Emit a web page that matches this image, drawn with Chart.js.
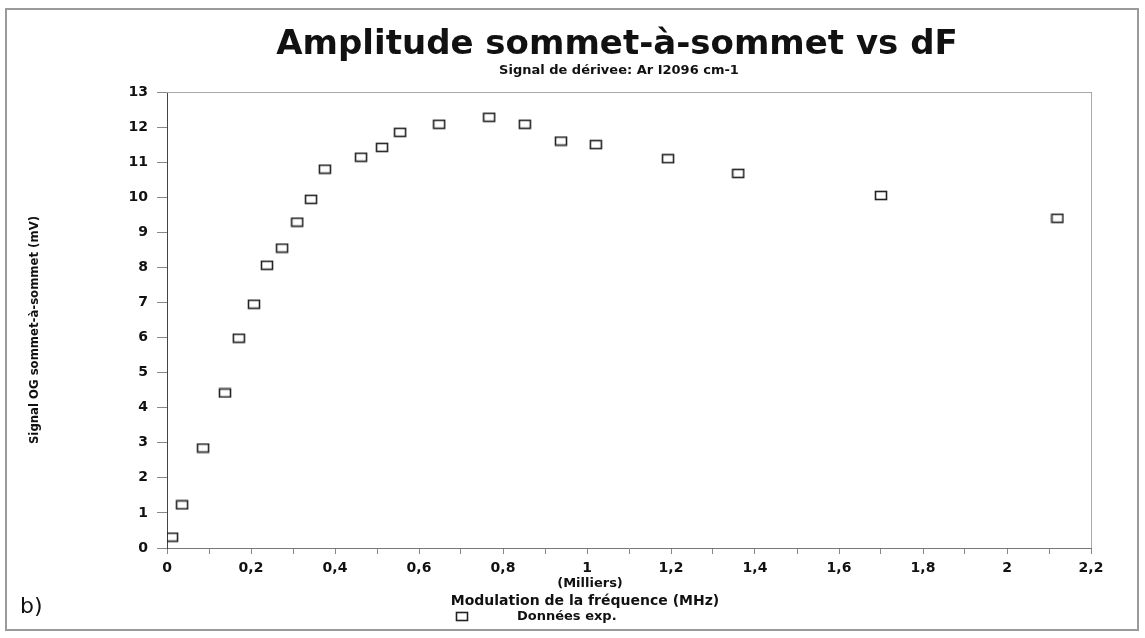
<!DOCTYPE html>
<html>
<head>
<meta charset="utf-8">
<script src="https://cdn.jsdelivr.net/npm/chart.js@4"></script>
<style>
  html, body { margin: 0; padding: 0; background: #fff; }
  #wrap { position: relative; width: 1145px; height: 638px; }
</style>
</head>
<body>
<div id="wrap"><canvas id="ampChart" width="1145" height="638"></canvas></div>
<script>
// ----------------------------
// données
// ----------------------------

const freqMHz = [0.012, 0.036, 0.086, 0.138, 0.171, 0.207, 0.238, 0.274, 0.31, 0.343, 0.376,
  0.462, 0.512, 0.555, 0.648, 0.767, 0.852, 0.938, 1.021, 1.193, 1.36, 1.70, 2.12];

const amplitude = [0.31, 1.23, 2.85, 4.42, 5.98, 6.95, 8.06, 8.55, 9.29, 9.94, 10.8,
  11.14, 11.42, 11.85, 12.08, 12.28, 12.08, 11.6, 11.5, 11.1, 10.68, 10.05, 9.4];

const xTickLabels = ["0", "0,2", "0,4", "0,6", "0,8", "1", "1,2", "1,4", "1,6", "1,8", "2", "2,2"];
const yTickLabels = ["0", "1", "2", "3", "4", "5", "6", "7", "8", "9", "10", "11", "12", "13"];

const titleText = "Amplitude sommet-à-sommet vs dF";
const subtitleText = "Signal de dérivee: Ar I2096 cm-1";
const yAxisText = "Signal OG sommet-à-sommet (mV)";
const xUnitText = "(Milliers)";
const xAxisText = "Modulation de la fréquence (MHz)";
const seriesName = "Données exp.";

// ----------------------------
// marqueur rectangle
// ----------------------------

const marker = document.createElement("canvas");
marker.width = 14;
marker.height = 11;
{
  const m = marker.getContext("2d");
  m.strokeStyle = "#222";
  m.lineWidth = 1.6;
  m.strokeRect(1.5, 1.5, 11, 8);
}

// ----------------------------
// textes et cadre
// ----------------------------

const decor = {
  id: "decor",
  beforeDraw(chart) {
    const ctx = chart.ctx;
    ctx.save();
    ctx.strokeStyle = "#9a9a9a";
    ctx.lineWidth = 2;
    ctx.strokeRect(6, 9, 1132, 621);
    ctx.restore();
  },
  afterDraw(chart) {
    const ctx = chart.ctx;
    const a = chart.chartArea;
    ctx.save();

    // cadre de la zone
    ctx.strokeStyle = "#a8a8a8";
    ctx.lineWidth = 1;
    ctx.beginPath();
    ctx.moveTo(a.left, a.top + 0.5);
    ctx.lineTo(a.right, a.top + 0.5);
    ctx.moveTo(a.right + 0.5, a.top);
    ctx.lineTo(a.right + 0.5, a.bottom);
    ctx.stroke();

    ctx.fillStyle = "#111";
    ctx.textAlign = "center";
    ctx.textBaseline = "middle";

    ctx.font = "bold 34px 'DejaVu Sans'";
    ctx.fillText(titleText, 617, 45);

    ctx.font = "bold 13px 'DejaVu Sans'";
    ctx.fillText(subtitleText, 619, 71);

    ctx.font = "bold 13px 'DejaVu Sans'";
    ctx.fillText(xUnitText, 590, 584);
    ctx.font = "bold 14px 'DejaVu Sans'";
    ctx.fillText(xAxisText, 585, 601);

    // légende
    ctx.drawImage(marker, 455, 611);
    ctx.textAlign = "left";
    ctx.font = "bold 13px 'DejaVu Sans'";
    ctx.fillText(seriesName, 517, 617);

    ctx.font = "22px 'DejaVu Sans'";
    ctx.fillText("b)", 20, 607);

    // titre axe Y
    ctx.translate(35, 330);
    ctx.rotate(-Math.PI / 2);
    ctx.textAlign = "center";
    ctx.font = "bold 13px 'DejaVu Sans Condensed'";
    ctx.fillText(yAxisText, 0, 0);

    ctx.restore();
  }
};

// ----------------------------
// graphique
// ----------------------------

new Chart(document.getElementById("ampChart"), {
  type: "scatter",
  data: {
    datasets: [{
      label: seriesName,
      data: freqMHz.map((x, i) => ({ x: x, y: amplitude[i] })),
      pointStyle: marker,
      pointRadius: 6,
      showLine: false
    }]
  },
  options: {
    responsive: false,
    animation: false,
    layout: { padding: { left: 0, right: 54, top: 92, bottom: 0 } },
    plugins: {
      legend: { display: false },
      title: { display: false },
      tooltip: { enabled: false }
    },
    scales: {
      x: {
        type: "linear",
        min: 0,
        max: 2.2,
        afterFit(scale) { scale.height = 90; },
        border: { color: "#777", width: 1 },
        grid: { drawOnChartArea: false, tickLength: 6, color: "#888" },
        ticks: {
          stepSize: 0.1,
          padding: 6,
          color: "#111",
          font: { family: "'DejaVu Sans'", weight: "bold", size: 14 },
          maxRotation: 0,
          autoSkip: false,
          callback: (v) => {
            const k = Math.round(v * 10);
            return k % 2 === 0 ? xTickLabels[k / 2] : "";
          }
        }
      },
      y: {
        min: 0,
        max: 13,
        afterFit(scale) { scale.width = 167; },
        border: { color: "#444", width: 1 },
        grid: { drawOnChartArea: false, tickLength: 10, color: "#888" },
        ticks: {
          stepSize: 1,
          padding: 9,
          color: "#111",
          font: { family: "'DejaVu Sans'", weight: "bold", size: 14 },
          callback: (v) => yTickLabels[v]
        }
      }
    }
  },
  plugins: [decor]
});
</script>
</body>
</html>
